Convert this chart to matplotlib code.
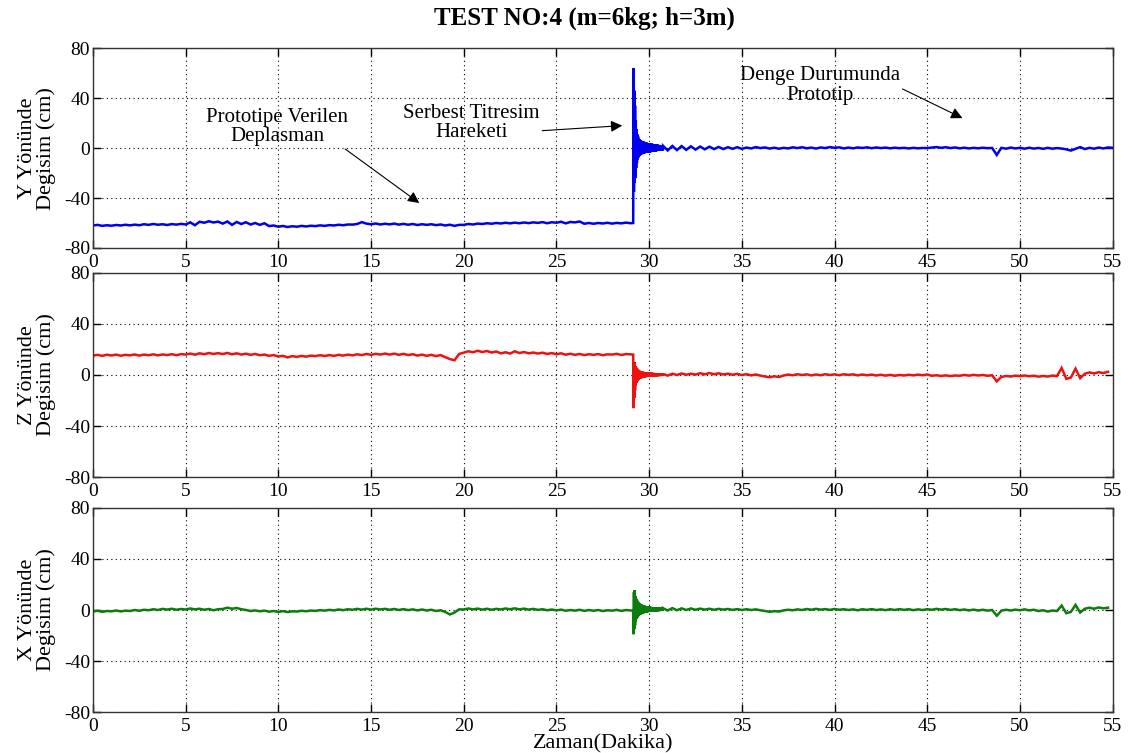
import numpy as np
import matplotlib
matplotlib.use("Agg")
import matplotlib.pyplot as plt

plt.rcParams['font.family'] = ['Liberation Serif', 'DejaVu Serif']

# ---------------- data ----------------
title = "TEST NO:4 (m=6kg; h=3m)"
xlabel = "Zaman(Dakika)"
ylabels = ["Y Yönünde\nDegisim (cm)", "Z Yönünde\nDegisim (cm)", "X Yönünde\nDegisim (cm)"]
xticks = [0, 5, 10, 15, 20, 25, 30, 35, 40, 45, 50, 55]
yticks = [-80, -40, 0, 40, 80]

# segment time ranges (minutes)
pre_range = (0.0, 29.0)       # before release, quarter-minute readings
burst_range = (29.14, 30.74)  # free vibration, 0.02-minute readings
post_range_y = (30.75, 55.0)
post_range_zx = (30.75, 54.75)

y_pre = [-62.0,-61.5,-62.3,-61.8, -62.2,-61.6,-62.0,-61.4, -61.9,-61.3,-61.8,-61.0,
         -61.5,-60.8,-61.4,-61.0, -61.6,-60.9,-61.3,-60.7, -61.2,-59.5,-61.8,-59.0,
         -59.8,-58.6,-59.6,-58.9, -60.5,-58.8,-61.5,-59.2, -60.8,-59.4,-61.2,-60.0,
         -61.5,-60.2,-62.5,-62.0, -63.0,-62.4,-63.2,-62.6, -63.0,-62.3,-62.8,-62.2,
         -62.5,-61.9,-62.3,-61.7, -62.0,-61.4,-61.8,-61.2, -61.3,-60.8,-59.3,-60.5,
         -61.0,-60.4,-61.2,-60.6, -61.1,-60.5,-61.3,-60.7, -61.4,-60.8,-61.6,-61.0,
         -61.5,-61.0,-61.7,-61.2, -62.0,-61.4,-62.3,-61.5, -61.5,-60.8,-61.2,-60.5,
         -60.8,-60.2,-60.6,-60.0, -60.4,-59.8,-60.3,-59.7, -60.2,-59.6,-60.1,-59.5,
         -59.9,-59.3,-60.2,-59.4, -59.8,-59.0,-60.3,-59.2, -59.5,-58.8,-60.6,-60.0,
         -60.6,-60.0,-60.4,-59.8, -60.5,-59.9,-60.3,-59.7, -60.2]
y_burst = [-60.0, 64.0, -35.0, 46.0, -28.0, 34.0, -24.0, 22.0, -16.0, 15.0, -12.0, 11.0,
           -9.0, 9.5, -7.5, 8.0, -6.5, 7.0, -6.0, 6.5, -5.5, 6.0, -5.0, 5.6, -4.8, 5.4,
           -4.6, 5.2, -4.4, 5.0, -4.2, 4.8, -4.0, 4.6, -3.9, 4.4, -3.8, 4.2, -3.7, 4.0,
           -3.6, 3.9, -3.5, 3.8,
           -3.4, 3.7, -3.3, 3.6, -3.2, 3.5, -3.1, 3.4, -3.0, 3.3, -2.9, 3.2, -2.8, 3.1,
           -2.7, 3.0, -2.6, 2.9, -2.5, 2.8, -2.4, 2.7, -2.3, 2.6, -2.2, 2.5, -2.1, 2.4,
           -2.0, 2.3, -2.0, 2.2, -1.9, 2.1, -1.8, 2.0, -1.8]
y_post = [1.8,-1.9,1.7,-1.6, 1.6,-1.4,1.4,-1.2, 1.2,-1.0,1.1,-0.8, 0.9,-0.8,0.7,-0.6,
          0.7,-0.6,0.4,-0.3, 0.8,0.0,0.5,-0.4, 0.3,-0.5,0.2,-0.3, 0.6,0.0,0.7,-0.2,
          0.4,-0.4,0.5,0.0, 0.8,0.2,0.6,-0.3, 0.4,-0.2,0.5,0.1, 0.6,-0.1,0.5,0.0,
          0.4,-0.2,0.3,-0.1, 0.2,-0.3,0.2,-0.2, 0.1,0.0,0.4,0.8, 0.2,0.7,0.0,0.5,
          -0.2,0.3,-0.3,0.2, -0.2,0.3,-0.1,0.1, -5.5,0.2,-0.5,0.4, -0.3,0.2,-0.5,0.3,
          -0.4,0.1,-0.6,0.2, -0.5,0.0,-0.4,-1.0, -2.0,-0.6,0.8,-0.8, 0.2,-0.5,0.4,-0.3,
          0.5,0.2]

z_pre = [15.2,15.8,15.0,15.9, 15.3,16.0,15.1,15.8, 15.4,16.1,15.2,16.0, 15.5,16.2,15.4,16.1,
         15.6,16.3,15.5,16.4, 16.0,16.8,15.9,17.0, 16.3,17.2,16.5,17.1, 16.4,17.3,16.2,17.0,
         16.0,16.7,15.8,16.5, 15.5,16.0,15.0,15.6, 14.5,15.0,13.8,14.8, 14.2,15.0,14.4,15.2,
         14.8,15.5,14.9,15.6, 15.0,15.8,15.2,16.0, 15.4,16.2,15.6,16.5, 15.8,16.6,16.0,16.8,
         16.0,16.7,15.8,16.6, 15.6,16.3,15.2,16.0, 15.0,15.8,14.8,15.6, 14.0,12.5,11.5,16.5,
         17.5,18.6,17.8,19.0, 18.0,18.8,17.6,18.4, 17.0,17.8,16.8,18.6, 17.2,18.0,17.0,17.6,
         16.8,17.5,16.5,17.2, 16.2,17.0,15.9,16.6, 15.8,16.5,15.6,16.3, 15.8,16.4,15.5,16.2,
         16.0,16.6,15.7,16.4, 16.2]
z_burst = [16.0, -26.0, 8.0, -18.0, 10.0, -12.0, 7.0, -8.0, 6.0, -6.0, 5.0, -5.0, 4.5,
           -4.0, 4.0, -3.5, 3.5, -3.0, 3.2, -2.8, 3.0, -2.6, 2.8, -2.4, 2.6, -2.2, 2.5,
           -2.0, 2.4, -1.9, 2.3, -1.8, 2.2, -1.7, 2.1, -1.6, 2.0, -1.5, 2.0, -1.5, 1.9,
           -1.4, 1.9, -1.4,
           1.8, -1.3, 1.8, -1.3, 1.7, -1.2, 1.7, -1.2, 1.6, -1.1, 1.6, -1.1, 1.5, -1.0,
           1.5, -1.0, 1.4, -1.0, 1.4, -0.9, 1.3, -0.9, 1.3, -0.8, 1.3, -0.8, 1.2, -0.8,
           1.2, -0.7, 1.2, -0.7, 1.1, -0.7, 1.1, -0.6, 1.1]
z_post = [0.8,-0.5,1.0,0.0, 1.2,0.2,1.0,0.3, 1.4,0.5,1.5,0.6, 1.3,0.4,1.0,0.2,
          0.9,0.0,0.6,-0.3, 0.4,-0.5,-1.2,-1.8, -1.0,-1.6,-0.4,0.3, -0.2,0.6,0.0,0.5,
          -0.3,0.4,-0.2,0.6, 0.0,0.5,-0.2,0.6, 0.1,0.5,-0.3,0.4, -0.2,0.3,-0.4,0.2,
          -0.5,0.1,-0.6,0.0, -0.4,0.2,-0.3,0.3, -0.2,0.4,-0.6,-0.2, -0.8,-0.3,-0.9,-0.4,
          -0.6,0.0,-0.5,0.1, -0.4,0.0,-0.6,-0.2, -5.0,-1.5,-0.8,-1.2, -0.5,-0.9,-0.4,-1.0,
          -0.6,-1.3,-0.8,-1.2, -0.5,-0.8,5.5,-3.0, -2.0,5.0,-2.5,1.0, 2.0,1.2,2.2,1.5,
          2.5]

x_pre = [-1.2,-0.6,-1.4,-0.8, -1.0,-0.4,-1.1,-0.5, -0.8,0.0,-0.6,0.2, -0.2,0.6,0.0,0.9,
         0.3,1.0,0.2,0.8, 0.4,1.2,0.5,1.0, 0.2,0.8,-0.2,0.6, 0.8,1.8,1.0,1.6,
         0.6,0.0,-0.8,-0.3, -1.0,-0.5,-1.3,-0.8, -1.5,-0.9,-1.6,-1.0, -1.2,-0.6,-1.0,-0.4,
         -0.7,-0.1,-0.5,0.1, -0.3,0.4,-0.1,0.6, 0.2,0.9,0.3,1.0, 0.3,1.0,0.4,0.9,
         0.2,0.8,0.0,0.7, -0.1,0.5,-0.3,0.4, -0.4,0.2,-0.8,-0.2, -1.5,-3.5,-2.0,0.5,
         0.4,1.2,0.5,1.1, 0.3,1.0,0.2,0.9, 0.4,1.2,0.6,1.3, 0.5,1.1,0.3,0.9,
         0.1,0.6,-0.2,0.4, -0.3,0.3,-0.6,0.0, -0.5,0.2,-0.7,0.0, -0.6,0.0,-0.8,-0.2,
         -0.5,0.1,-0.7,0.0, -0.4]
x_burst = [-0.4, -19.0, 14.0, -15.0, 15.5, -12.0, 11.0, -9.0, 9.0, -7.0, 8.0, -6.0, 7.0,
           -5.0, 6.0, -4.5, 5.5, -4.0, 5.0, -3.6, 4.6, -3.3, 4.3, -3.0, 4.0, -2.8, 3.8,
           -2.6, 3.6, -2.4, 3.4, -2.2, 3.2, -2.0, 3.1, -1.9, 3.0, -1.8, 2.9, -1.7, 2.8,
           -1.6, 2.7, -1.5,
           2.6, -1.4, 2.5, -1.4, 2.4, -1.3, 2.3, -1.3, 2.3, -1.2, 2.2, -1.2, 2.1, -1.1,
           2.1, -1.1, 2.0, -1.0, 2.0, -1.0, 1.9, -0.9, 1.9, -0.9, 1.8, -0.8, 1.8, -0.8,
           1.7, -0.7, 1.7, -0.7, 1.6, -0.6, 1.6, -0.6, 1.5]
x_post = [1.4,-0.4,1.5,-0.2, 1.3,0.0,1.2,0.2, 1.1,0.3,1.0,0.2, 0.9,0.3,0.8,0.1,
          0.7,0.0,0.6,0.0, 0.5,-0.2,-0.8,-1.4, -0.9,-1.2,-0.3,0.2, -0.2,0.5,0.0,0.8,
          0.2,0.9,0.3,0.7, 0.1,0.8,0.2,0.6, 0.0,0.5,-0.2,0.6, 0.1,0.7,0.0,0.5,
          -0.1,0.6,0.0,0.7, 0.1,0.6,-0.1,0.5, 0.0,0.6,0.2,0.9, 0.3,0.8,0.1,0.6,
          -0.1,0.4,-0.3,0.3, -0.4,0.2,-0.5,0.0, -4.5,-0.5,0.2,-0.4, 0.3,-0.2,0.5,-0.3,
          0.2,-0.8,-0.2,-1.2, -0.4,-0.8,3.5,-2.5, -1.5,4.0,-2.0,1.0, 1.8,1.0,2.0,1.3,
          1.8]

series = [
    (y_pre, y_burst, y_post, post_range_y, '#0000ee'),
    (z_pre, z_burst, z_post, post_range_zx, '#ee1111'),
    (x_pre, x_burst, x_post, post_range_zx, '#0a7d0a'),
]

# ---------------- figure ----------------
fig = plt.figure(figsize=(11.38, 7.53), dpi=100)
left, width = 0.0817, 0.896
boxes = [(0.6707, 0.2653), (0.3665, 0.2710), (0.0544, 0.2710)]
spine_col = '#333333'
axes = []
for (bottom, height), (pre, burst, post, prange, col), ylab in zip(boxes, series, ylabels):
    ax = fig.add_axes([left, bottom, width, height])
    t_pre = np.linspace(pre_range[0], pre_range[1], len(pre))
    t_burst = np.linspace(burst_range[0], burst_range[1], len(burst))
    t_post = np.linspace(prange[0], prange[1], len(post))
    t = np.concatenate([t_pre, t_burst, t_post])
    v = np.concatenate([pre, burst, post])
    ax.plot(t, v, color=col, lw=1.8, solid_joinstyle='miter')
    ax.set_xlim(0, 55)
    ax.set_ylim(-80, 80)
    ax.set_xticks(xticks)
    ax.set_yticks(yticks)
    ax.set_xticklabels([str(x) for x in xticks])
    ax.set_yticklabels([str(y) for y in yticks])
    ax.grid(True, color='black', linestyle=(0, (1, 3)), linewidth=0.8)
    ax.tick_params(direction='in', top=True, right=True, length=6, width=1.0,
                   colors='black', labelsize=14)
    ax.tick_params(axis='y', pad=2)
    ax.tick_params(axis='x', pad=4)
    for s in ax.spines.values():
        s.set_color(spine_col)
        s.set_linewidth(1.0)
    ax.set_ylabel(ylab, fontsize=16, linespacing=1.0)
    ax.yaxis.set_label_coords(-0.036, 0.5)
    axes.append(ax)

axes[2].set_xlabel(xlabel, fontsize=16, labelpad=0)
fig.text(0.514, 0.976, title, ha='center', va='center', fontsize=18, fontweight='bold')

ax0 = axes[0]
arrow = dict(arrowstyle='-|>', color='black', lw=0.8, mutation_scale=17, shrinkA=0, shrinkB=0)
ax0.annotate("Prototipe Verilen\nDeplasman", xy=(17.6, -44), xytext=(9.95, 17),
             ha='center', va='center', fontsize=15, linespacing=1.05,
             arrowprops=dict(arrow, relpos=(0.95, 0.0)))
ax0.annotate("Serbest Titresim\nHareketi", xy=(28.55, 18), xytext=(20.4, 20),
             ha='center', va='center', fontsize=15, linespacing=1.05,
             arrowprops=dict(arrow, relpos=(1.0, 0.3)))
ax0.annotate("Denge Durumunda\nPrototip", xy=(46.9, 24), xytext=(39.2, 50),
             ha='center', va='center', fontsize=15, linespacing=1.05,
             arrowprops=dict(arrow, relpos=(0.95, 0.55)))

fig.savefig("out.png", dpi=100)
